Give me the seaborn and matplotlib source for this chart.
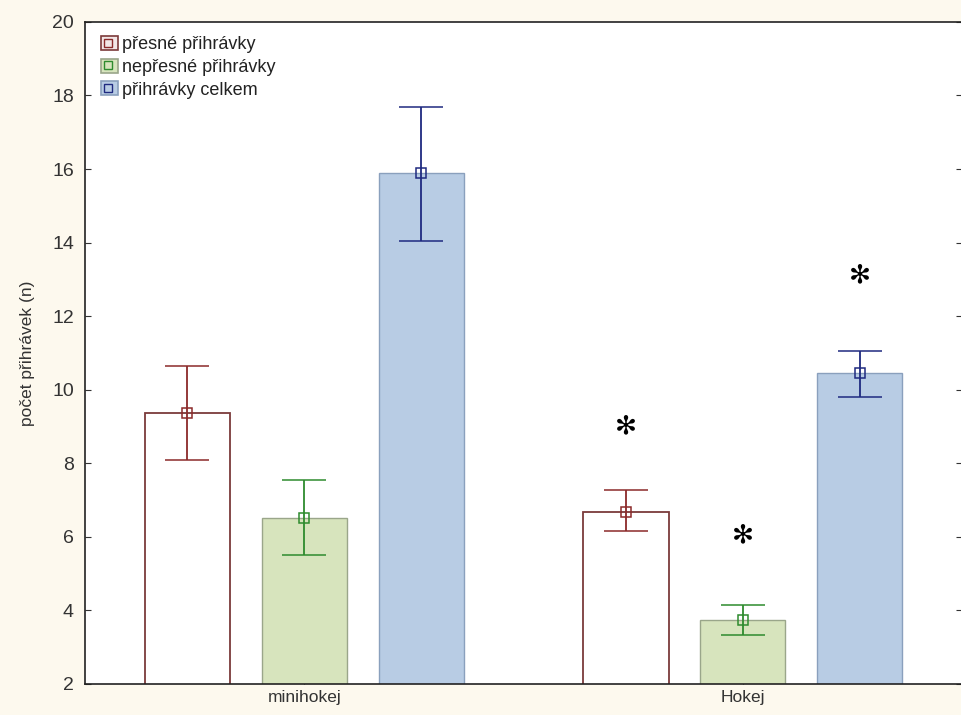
import pandas as pd
import matplotlib
matplotlib.use("Agg")
import matplotlib.pyplot as plt
import seaborn as sns
from matplotlib.patches import Patch
from matplotlib.lines import Line2D
from matplotlib.legend_handler import HandlerTuple

# Data
groups = ["minihokej", "Hokej"]
series = ["přesné přihrávky", "nepřesné přihrávky", "přihrávky celkem"]
means = {
    "přesné přihrávky": [9.36, 6.67],
    "nepřesné přihrávky": [6.51, 3.74],
    "přihrávky celkem": [15.89, 10.45],
}
upper = {
    "přesné přihrávky": [10.64, 7.27],
    "nepřesné přihrávky": [7.54, 4.15],
    "přihrávky celkem": [17.68, 11.05],
}
lower = {
    "přesné přihrávky": [8.08, 6.16],
    "nepřesné přihrávky": [5.50, 3.33],
    "přihrávky celkem": [14.04, 9.80],
}
# significance stars (group, series, y)
stars = [("Hokej", "přesné přihrávky", 9.0),
         ("Hokej", "nepřesné přihrávky", 6.05),
         ("Hokej", "přihrávky celkem", 13.1)]

fills = ["#ffffff", "#d7e4bd", "#b8cce4"]
edges = ["#7b3a3a", "#9aa68a", "#8aa0bd"]
err_colors = ["#8b2a2a", "#2e8b2e", "#1f2a80"]

rows = []
for s in series:
    for g, m in zip(groups, means[s]):
        rows.append({"skupina": g, "typ": s, "n": m})
df = pd.DataFrame(rows)

sns.set_style("ticks")
plt.rcParams["font.family"] = ["Liberation Sans", "DejaVu Sans"]

fig = plt.figure(figsize=(9.62, 7.15), dpi=100)
fig.patch.set_facecolor("#fdf9ee")
ax = fig.add_axes([0.0884, 0.0434, 0.9116, 0.926])

sns.barplot(data=df, x="skupina", y="n", hue="typ", order=groups, hue_order=series,
            palette=fills, saturation=1, width=0.8, gap=0.27, errorbar=None,
            legend=False, ax=ax)

bar_conts = list(ax.containers)
for i, cont in enumerate(bar_conts):
    s = series[i]
    for j, p in enumerate(cont.patches):
        p.set_edgecolor(edges[i])
        p.set_linewidth(1.3 if i == 0 else 1.0)
        xc = p.get_x() + p.get_width() / 2
        m = means[s][j]
        ax.errorbar(xc, m, yerr=[[m - lower[s][j]], [upper[s][j] - m]],
                    fmt="s", mfc="none", mec=err_colors[i], ms=7, mew=1.1,
                    ecolor=err_colors[i], elinewidth=1.3, capsize=16, capthick=1.3,
                    zorder=5)

# stars above Hokej bars
for g, s, y in stars:
    i = series.index(s)
    j = groups.index(g)
    p = bar_conts[i].patches[j]
    ax.text(p.get_x() + p.get_width() / 2, y, "✻", ha="center", va="center",
            fontsize=19, fontweight="bold", family="DejaVu Sans", color="black")

ax.set_ylim(2, 20)
ax.set_xlim(-0.5, 1.5)
ax.set_yticks(range(2, 21, 2))
ax.set_xlabel("")
ax.set_ylabel("počet přihrávek (n)", fontsize=12.5, color="#333333", labelpad=12)
ax.tick_params(axis="y", direction="in", length=4, labelsize=14, labelcolor="#333333",
               right=True, color="#333333", pad=8)
ax.tick_params(axis="x", direction="in", length=4, labelsize=12.5, labelcolor="#333333", pad=4)
for side in ["left", "top", "bottom"]:
    ax.spines[side].set_color("#222222")
    ax.spines[side].set_linewidth(1.2)
    ax.spines[side].set_visible(True)
ax.spines["right"].set_visible(False)

handles = []
for i in range(3):
    handles.append((Patch(facecolor=fills[i] if i else "#f3e6e6", edgecolor=edges[i], lw=1.2),
                    Line2D([], [], marker="s", ls="none", mfc="none", mec=err_colors[i], ms=6, mew=1.0)))
ax.legend(handles, series, handler_map={tuple: HandlerTuple(ndivide=None, pad=-1)},
          loc="upper left", bbox_to_anchor=(0.0, 1.003), frameon=False, fontsize=13,
          handlelength=0.8, handleheight=0.8, handletextpad=0.35, labelspacing=0.3,
          labelcolor="#222222")

fig.savefig("out.png", dpi=100, facecolor=fig.get_facecolor())
